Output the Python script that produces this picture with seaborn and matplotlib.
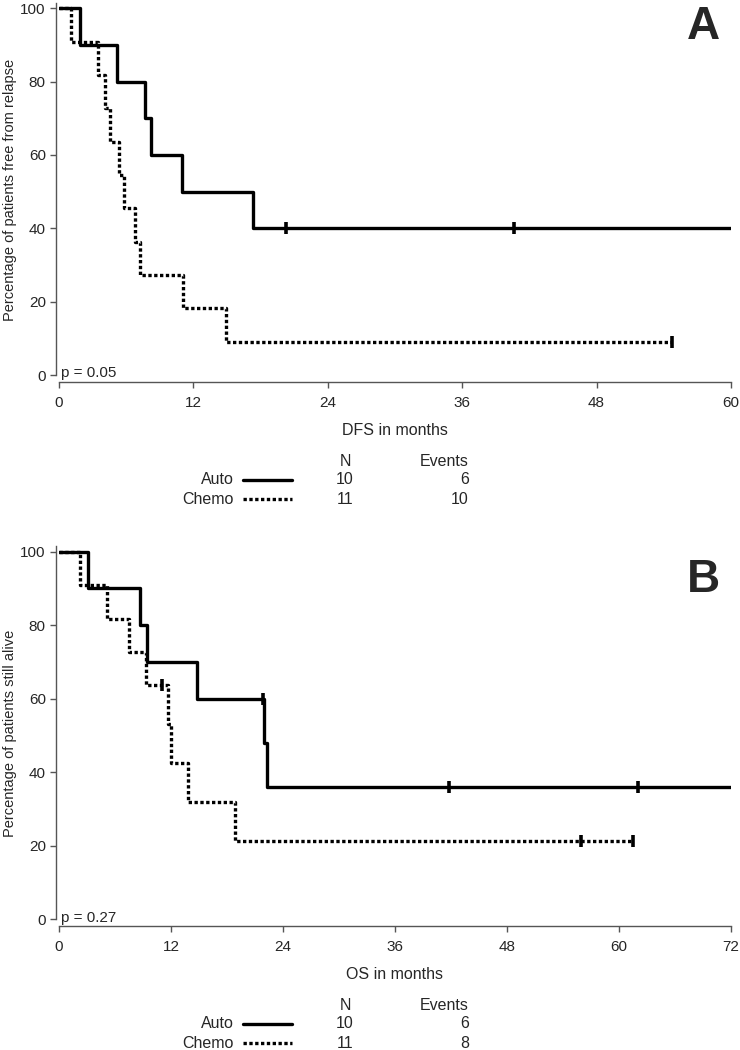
import numpy as np
import pandas as pd
import matplotlib.pyplot as plt
from matplotlib.lines import Line2D
import seaborn as sns

sns.set_style("ticks")
plt.rcParams['font.family'] = ['Liberation Sans', 'DejaVu Sans']

# ---- data (months, 1 = event, 0 = censored) ----
dfs_auto_t = [1.9, 5.2, 7.7, 8.2, 10.95, 17.35, 20.3, 40.6, 62.0, 64.0]
dfs_auto_e = [1, 1, 1, 1, 1, 1, 0, 0, 0, 0]
dfs_chemo_t = [1.04, 3.5, 4.1, 4.55, 5.36, 5.8, 6.8, 7.2, 11.1, 14.9, 54.7]
dfs_chemo_e = [1, 1, 1, 1, 1, 1, 1, 1, 1, 1, 0]

os_auto_t = [3.1, 8.7, 9.4, 14.75, 21.9, 22.0, 22.25, 41.8, 62.0, 74.0]
os_auto_e = [1, 1, 1, 1, 0, 1, 1, 0, 0, 0]
os_chemo_t = [2.25, 5.18, 7.54, 9.32, 11.0, 11.7, 12.0, 13.86, 18.86, 55.9, 61.5]
os_chemo_e = [1, 1, 1, 1, 0, 1, 1, 1, 1, 0, 0]

groups = ['Auto', 'Chemo']
dfs_n = [10, 11]
dfs_events = [6, 10]
os_n = [10, 11]
os_events = [6, 8]


def km(times, events):
    # simple kaplan-meier, no ties in these data
    d = pd.DataFrame({'t': times, 'e': events}).sort_values('t')
    n = len(d)
    s = 100.0
    steps = [(0.0, 100.0)]
    cens = []
    for t, e in zip(d['t'], d['e']):
        if e == 1:
            s = s * (n - 1) / n
            steps.append((t, s))
        else:
            cens.append((t, s))
        n -= 1
    steps.append((d['t'].max(), s))
    return pd.DataFrame(steps, columns=['time', 'surv']), pd.DataFrame(cens, columns=['time', 'surv'])


solid = dict(color='black', lw=2.4, linestyle='-')
dotted = dict(color='black', lw=2.4, linestyle=(0, (1.0, 0.75)), dash_capstyle='butt')

fig = plt.figure(figsize=(7.4, 10.5), dpi=100)
W, H = 740.0, 1050.0


def panel(ax, curves, xmax, xlab, ylab, ptxt, letter, letter_y):
    for (t, e), st in curves:
        steps, cens = km(t, e)
        sns.lineplot(data=steps, x='time', y='surv', ax=ax, drawstyle='steps-post',
                     estimator=None, sort=False, **st)
        ax.plot(cens['time'], cens['surv'], ls='none', marker='|', ms=8, mew=2.6, color='black')
    ax.set_xlim(0, xmax)
    ax.set_ylim(0, 101.5)
    ax.set_xticks(np.arange(0, xmax + 1, 12))
    ax.set_yticks(np.arange(0, 101, 20))
    sns.despine(ax=ax)
    ax.spines['left'].set_position(('outward', 2))
    ax.spines['bottom'].set_position(('outward', 5))
    for sp in ['left', 'bottom']:
        ax.spines[sp].set_color('#555555')
        ax.spines[sp].set_linewidth(1.0)
    ax.tick_params(axis='both', labelsize=11, length=4, width=1, color='#555555')
    ax.tick_params(axis='x', pad=6)
    ax.set_xlabel(xlab, fontsize=11.5, labelpad=9.5)
    ax.set_ylabel(ylab, fontsize=10.5)
    ax.yaxis.set_label_coords(-42 / 672, 100 / 101.5 / 2 + 0.005)
    ax.text(0.2, -0.6, ptxt, fontsize=11, ha='left', va='baseline')
    fig.text(703 / W, 1 - letter_y / H, letter, fontsize=33, fontweight='bold',
             ha='center', va='center')


axA = fig.add_axes([59 / W, 1 - 375 / H, 672 / W, 372.2 / H])
axB = fig.add_axes([59 / W, 1 - 919.3 / H, 672 / W, 373.1 / H])

panel(axA, [((dfs_auto_t, dfs_auto_e), solid), ((dfs_chemo_t, dfs_chemo_e), dotted)],
      60, 'DFS in months', 'Percentage of patients free from relapse', 'p = 0.05', 'A', 27)
panel(axB, [((os_auto_t, os_auto_e), solid), ((os_chemo_t, os_chemo_e), dotted)],
      72, 'OS in months', 'Percentage of patients still alive', 'p = 0.27', 'B', 580)


def legend_table(y_head, ns, evs):
    fig.text(345 / W, 1 - y_head / H, 'N', ha='center', va='center', fontsize=11.5)
    fig.text(469 / W, 1 - y_head / H, 'Events', ha='right', va='center', fontsize=11.5)
    for i, (g, n, ev, st) in enumerate(zip(groups, ns, evs, [solid, dotted])):
        yy = 1 - (y_head + 19 * (i + 1)) / H
        fig.text(234 / W, yy, g, ha='right', va='center', fontsize=11.5)
        fig.add_artist(Line2D([243 / W, 292 / W], [yy, yy], **st))
        fig.text(345 / W, yy, str(n), ha='center', va='center', fontsize=11.5)
        fig.text(469 / W, yy, str(ev), ha='right', va='center', fontsize=11.5)


legend_table(461, dfs_n, dfs_events)
legend_table(1005, os_n, os_events)

fig.savefig('out.png', dpi=100)
